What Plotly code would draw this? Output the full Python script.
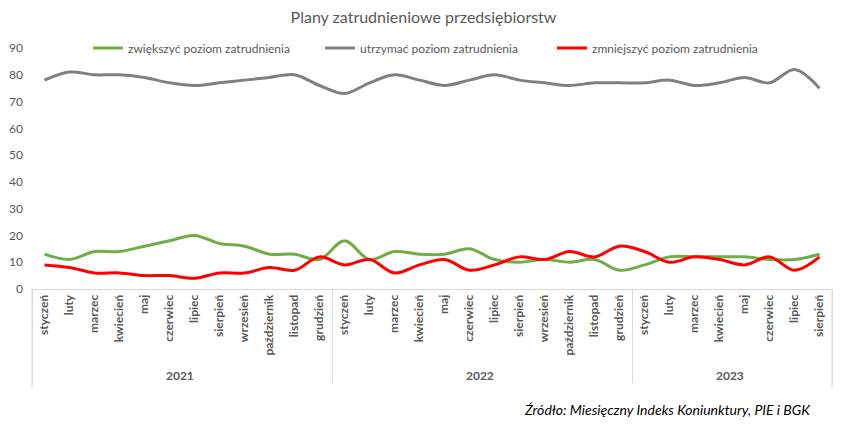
import plotly.graph_objects as go

# dane (%)
years = ['2021'] * 12 + ['2022'] * 12 + ['2023'] * 8
months_all = ['styczeń', 'luty', 'marzec', 'kwiecień', 'maj', 'czerwiec',
              'lipiec', 'sierpień', 'wrzesień', 'październik', 'listopad', 'grudzień']
months = months_all * 2 + months_all[:8]

zwiekszyc = [13, 11, 14, 14, 16, 18, 20, 17, 16, 13, 13, 11,
             18, 11, 14, 13, 13, 15, 11, 10, 11, 10, 11, 7,
             9, 12, 12, 12, 12, 11, 11, 13]
utrzymac = [78, 81, 80, 80, 79, 77, 76, 77, 78, 79, 80, 76,
            73, 77, 80, 78, 76, 78, 80, 78, 77, 76, 77, 77,
            77, 78, 76, 77, 79, 77, 82, 75]
zmniejszyc = [9, 8, 6, 6, 5, 5, 4, 6, 6, 8, 7, 12,
              9, 11, 6, 9, 11, 7, 9, 12, 11, 14, 12, 16,
              14, 10, 12, 11, 9, 12, 7, 12]

series = [('zwiększyć poziom zatrudnienia', zwiekszyc, '#70AD47'),
          ('utrzymać poziom zatrudnienia', utrzymac, '#808080'),
          ('zmniejszyć poziom zatrudnienia', zmniejszyc, '#FF0000')]

txt = '#595959'
fnt = 'Lato'
grid = '#D9D9D9'

fig = go.Figure()
for name, vals, col in series:
    fig.add_trace(go.Scatter(x=[years, months], y=vals, name=name, mode='lines',
                             line=dict(color=col, width=3, shape='spline', smoothing=1)))

fig.update_layout(
    width=847, height=427,
    margin=dict(l=32, r=15, t=48, b=138, autoexpand=False),
    plot_bgcolor='white', paper_bgcolor='white',
    font=dict(family=fnt, color=txt),
    title=dict(text='Plany zatrudnieniowe przedsiębiorstw', x=0.5, xanchor='center',
               y=0.96, yanchor='middle', font=dict(size=16, color=txt, family=fnt)),
    legend=dict(orientation='h', x=0.505, xanchor='center', y=1.0, yanchor='middle',
                entrywidth=187, entrywidthmode='pixels',
                font=dict(size=12, color=txt, family=fnt), bgcolor='rgba(0,0,0,0)'),
    showlegend=True,
)
fig.update_xaxes(type='multicategory', range=[-0.5, len(months) - 0.5], automargin=False,
                 showgrid=False, showline=True, linecolor=grid,
                 linewidth=1, tickangle=-90, ticks='',
                 tickfont=dict(size=12, color=txt, family=fnt, weight='bold'),
                 showdividers=True, dividercolor=grid, dividerwidth=1)
fig.update_yaxes(range=[0, 90], dtick=10, showgrid=False, zeroline=False, showline=False,
                 automargin=False, ticklabelstandoff=8,
                 tickfont=dict(size=12, color=txt, family=fnt), ticks='')

# krawędzie osi kategorii (jak w Excelu)
for xe in (0, 1):
    fig.add_shape(type='line', xref='paper', yref='paper', x0=xe, x1=xe, y0=0, y1=-0.41,
                  line=dict(color=grid, width=1))

fig.add_annotation(text='<i>Źródło: Miesięczny Indeks Koniunktury, PIE i BGK</i>',
                   xref='paper', yref='paper', x=0.976, y=-0.5, xanchor='right', yanchor='middle',
                   showarrow=False, font=dict(size=14, color='#000000', family=fnt))

fig.write_html('out.html', config={'displayModeBar': False},
               post_script="document.body.style.margin='0';")
